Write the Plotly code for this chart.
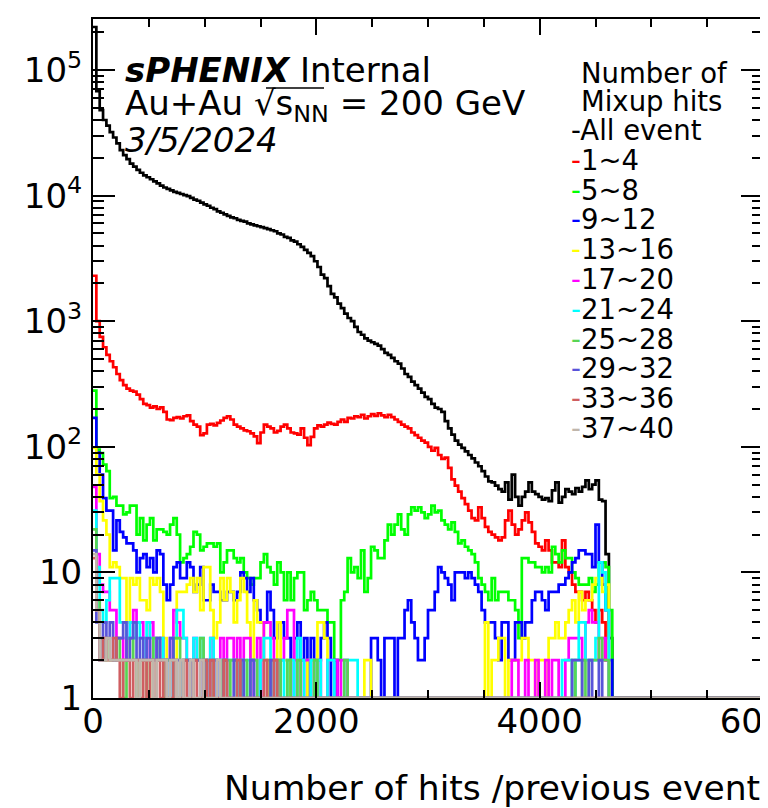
import numpy as np
import plotly.graph_objects as go

# histogram binning: 200 bins of 30 hits from 0 to 6000
bin_width = 30
n_bins = 200

labels = ["All event", "1~4", "5~8", "9~12", "13~16", "17~20",
          "21~24", "25~28", "29~32", "33~36", "37~40"]
colors = ["#000000", "#ff0000", "#00ff00", "#0000ff", "#ffff00", "#ff00ff",
          "#00ffff", "#59d454", "#5954d9", "#cf5e61", "#c0b6ac"]

all_event = [
    220000, 68000, 48000, 40000, 36000, 32000, 29000, 26000, 23000, 21000,
    19500, 18000, 17000, 16000, 15200, 14500, 14000, 13500, 13000, 12500,
    12000, 11600, 11300, 11000, 10700, 10500, 10300, 10100, 9900, 9600,
    9300, 9100, 8800, 8500, 8300, 8000, 7800, 7500, 7300, 7100,
    6900, 6700, 6600, 6400, 6300, 6200, 6000, 5900, 5800, 5700,
    5600, 5500, 5400, 5300, 5200, 5000, 4900, 4700, 4600, 4400,
    4300, 4100, 3900, 3700, 3500, 3300, 3000, 2700, 2350, 2200,
    1900, 1650, 1550, 1380, 1270, 1150, 1060, 1000, 900, 820,
    780, 730, 700, 680, 660, 640, 600, 560, 540, 510,
    480, 460, 420, 380, 360, 330, 310, 290, 270, 250,
    240, 220, 205, 200, 190, 160, 140, 125, 112, 104,
    98, 92, 86, 81, 75, 70, 64, 58, 53, 52,
    49, 46, 44, 52, 38, 60, 40, 34, 40, 44,
    52, 44, 42, 40, 38, 39, 37, 45, 52, 36,
    40, 46, 44, 42, 47, 44, 48, 54, 46, 50,
    54, 38, 37, 14, 3]

hits_1_4 = [
    2300, 1000, 750, 620, 540, 480, 430, 380, 340, 310,
    290, 280, 275, 260, 240, 220, 215, 205, 210, 200,
    206, 190, 165, 163, 170, 172, 168, 175, 178, 160,
    150, 145, 124, 128, 150, 152, 148, 155, 162, 170,
    175, 165, 150, 145, 140, 135, 133, 128, 121, 107,
    130, 150, 145, 140, 130, 134, 145, 150, 140, 130,
    128, 125, 140, 118, 103, 120, 140, 148, 145, 150,
    156, 152, 150, 158, 165, 158, 170, 168, 175, 172,
    180, 168, 175, 182, 176, 185, 178, 172, 180, 172,
    165, 158, 150, 145, 140, 130, 124, 118, 112, 108,
    100, 93, 98, 86, 80, 82, 68, 55, 49, 44,
    39, 35, 31, 27, 26, 33, 27, 23, 21, 20,
    19, 18, 19, 26, 31, 24, 20, 22, 26, 30,
    25, 21, 17, 16, 15, 18, 15, 12, 12, 11,
    18, 11, 10, 8, 7, 7, 6, 7, 6, 5,
    4, 5, 4, 2, 0]

hits_5_8 = [
    280, 95, 89, 72, 64, 39, 40, 34, 34, 29,
    30, 34, 34, 20, 27, 18, 24, 27, 18, 22,
    22, 21, 20, 24, 27, 20, 12, 13, 14, 16,
    21, 20, 15, 16, 17, 17, 16, 17, 10, 12,
    15, 15, 13, 12, 13, 10, 9, 8, 9, 9,
    12, 14, 11, 10, 8, 12, 10, 6, 10, 6,
    9, 10, 10, 5, 6, 7, 6, 5, 5, 5,
    4, 4, 2, 2, 6, 7, 13, 10, 11, 9,
    15, 7, 9, 16, 15, 13, 13, 18, 24, 20,
    24, 29, 22, 20, 29, 33, 31, 33, 30, 27,
    29, 34, 30, 31, 26, 24, 22, 25, 21, 17,
    18, 16, 15, 14, 12, 9, 8, 7, 6, 9,
    6, 7, 7, 7, 6, 6, 5, 3, 13, 13,
    12, 12, 11, 11, 10, 11, 10, 16, 14, 12,
    15, 13, 13, 10, 9, 8, 8, 8, 9, 7,
    8, 12, 12, 11, 5]

hits_9_12 = [
    170, 90, 60, 39, 31, 31, 15, 26, 21, 19,
    17, 17, 15, 10, 13, 14, 11, 13, 10, 15,
    14, 8, 6, 8, 11, 12, 9, 9, 12, 11,
    7, 8, 11, 6, 6, 8, 7, 7, 6, 6,
    7, 7, 6, 7, 10, 9, 7, 9, 6, 5,
    4, 4, 7, 5, 3, 4, 4, 3, 3, 1,
    3, 4, 2, 3, 1, 3, 2, 2, 3, 4,
    3, 1, 2, 0, 0, 0, 0, 0, 0, 0,
    0, 0, 0, 3, 3, 2, 0, 3, 3, 3,
    0, 3, 3, 5, 6, 4, 3, 2, 2, 3,
    5, 5, 7, 11, 10, 9, 8, 6, 10, 10,
    10, 9, 10, 9, 8, 7, 5, 4, 4, 4,
    3, 2, 4, 4, 2, 2, 4, 4, 3, 4,
    4, 6, 7, 7, 6, 5, 7, 7, 7, 8,
    8, 9, 10, 12, 13, 15, 15, 14, 14, 11,
    24, 12, 8, 5, 2]

hits_13_16 = [
    98, 60, 37, 26, 20, 11, 12, 11, 9, 9,
    4, 9, 8, 9, 6, 6, 5, 9, 8, 9,
    7, 3, 2, 2, 2, 7, 7, 7, 8, 9,
    7, 9, 5, 11, 11, 5, 3, 4, 9, 6,
    9, 7, 4, 6, 9, 7, 4, 2, 6, 4,
    4, 2, 1, 2, 2, 4, 2, 2, 1, 2,
    2, 0, 1, 1, 2, 2, 1, 4, 4, 3,
    1, 0, 0, 0, 0, 0, 0, 0, 0, 0,
    0, 2, 2, 0, 0, 0, 1, 0, 0, 0,
    0, 0, 0, 0, 0, 0, 0, 0, 0, 0,
    0, 0, 0, 0, 0, 0, 0, 0, 0, 0,
    0, 0, 0, 0, 0, 0, 0, 4, 1, 2,
    2, 3, 3, 1, 2, 2, 2, 2, 3, 3,
    2, 2, 1, 2, 2, 1, 3, 3, 4, 3,
    3, 4, 5, 6, 4, 7, 5, 6, 6, 8,
    9, 9, 7, 8, 0]

hits_17_20 = [
    48, 14, 8, 7, 7, 5, 5, 3, 3, 2,
    3, 4, 5, 4, 4, 3, 2, 4, 3, 2,
    3, 2, 2, 3, 5, 4, 3, 3, 2, 1,
    3, 2, 2, 1, 2, 3, 2, 1, 3, 2,
    3, 3, 2, 3, 1, 3, 3, 2, 1, 3,
    1, 4, 4, 3, 2, 1, 2, 3, 5, 5,
    2, 2, 1, 2, 2, 0, 2, 2, 1, 0,
    2, 2, 2, 1, 2, 2, 0, 0, 0, 0,
    0, 0, 0, 0, 0, 0, 0, 0, 0, 0,
    0, 0, 0, 0, 0, 0, 0, 0, 0, 0,
    0, 0, 0, 0, 0, 0, 0, 0, 0, 0,
    0, 0, 0, 0, 0, 0, 0, 0, 0, 0,
    0, 0, 0, 0, 0, 2, 2, 0, 1, 2,
    1, 0, 2, 1, 0, 2, 0, 2, 2, 0,
    1, 2, 3, 3, 3, 3, 2, 4, 5, 4,
    4, 2, 3, 2, 0]

hits_21_24 = [
    31, 11, 5, 4, 6, 9, 9, 9, 4, 4,
    3, 4, 3, 4, 3, 2, 4, 3, 2, 2,
    3, 2, 2, 1, 3, 5, 5, 3, 2, 2,
    3, 2, 3, 1, 2, 3, 2, 1, 2, 2,
    2, 2, 2, 1, 2, 1, 2, 2, 2, 1,
    2, 3, 3, 2, 1, 2, 2, 1, 2, 2,
    1, 3, 2, 1, 1, 2, 1, 2, 1, 1,
    2, 2, 0, 0, 1, 2, 2, 2, 2, 0,
    0, 0, 0, 0, 0, 0, 0, 0, 0, 0,
    0, 0, 0, 0, 0, 0, 0, 0, 0, 0,
    0, 0, 0, 0, 0, 0, 0, 0, 0, 0,
    0, 0, 0, 0, 0, 0, 0, 0, 0, 0,
    0, 0, 0, 0, 0, 0, 0, 0, 1, 0,
    0, 0, 0, 1, 0, 0, 0, 0, 0, 1,
    2, 2, 2, 1, 2, 4, 4, 2, 2, 2,
    3, 12, 10, 5, 0]

hits_25_28 = [
    22, 6, 3, 2, 3, 2, 2, 3, 2, 1,
    2, 3, 2, 1, 2, 2, 1, 2, 3, 3,
    2, 1, 2, 2, 3, 3, 1, 2, 2, 1,
    2, 2, 3, 2, 1, 1, 2, 2, 1, 2,
    1, 2, 2, 1, 1, 2, 1, 2, 2, 1,
    1, 1, 2, 1, 1, 2, 1, 1, 2, 1,
    1, 2, 1, 0, 1, 1, 2, 1, 0, 1,
    1, 0, 1, 1, 0, 2, 1, 0, 0, 1,
    0, 0, 1, 0, 0, 1, 0, 0, 0, 0,
    1, 0, 0, 0, 0, 0, 1, 0, 0, 0,
    0, 0, 0, 1, 0, 0, 0, 0, 0, 1,
    0, 0, 0, 0, 1, 0, 0, 0, 0, 1,
    0, 0, 1, 0, 0, 1, 0, 0, 1, 0,
    0, 1, 0, 1, 0, 0, 1, 1, 0, 1,
    1, 0, 1, 2, 1, 1, 2, 1, 2, 2,
    2, 3, 2, 2, 0]

hits_29_32 = [
    15, 4, 2, 4, 3, 4, 2, 3, 3, 4,
    2, 3, 4, 2, 3, 2, 3, 2, 2, 3,
    2, 2, 1, 3, 2, 2, 1, 2, 2, 1,
    2, 2, 1, 2, 1, 2, 2, 1, 1, 2,
    1, 1, 2, 1, 2, 1, 1, 2, 1, 1,
    1, 0, 1, 2, 1, 0, 1, 1, 0, 1,
    1, 0, 1, 0, 0, 1, 0, 1, 0, 0,
    1, 0, 0, 1, 0, 0, 0, 1, 0, 0,
    0, 1, 0, 0, 0, 0, 0, 0, 1, 0,
    0, 0, 0, 0, 0, 0, 0, 0, 0, 0,
    0, 0, 0, 0, 0, 0, 0, 1, 0, 0,
    0, 0, 0, 0, 0, 0, 0, 0, 1, 0,
    0, 0, 0, 0, 0, 1, 0, 0, 0, 0,
    1, 0, 0, 0, 1, 0, 0, 1, 0, 0,
    1, 1, 1, 2, 2, 2, 1, 1, 2, 1,
    1, 2, 1, 1, 0]

hits_33_36 = [
    13, 5, 2, 3, 2, 2, 3, 2, 1, 2,
    2, 1, 2, 2, 1, 2, 1, 2, 1, 2,
    1, 2, 1, 1, 2, 1, 1, 2, 1, 1,
    2, 1, 1, 2, 1, 2, 1, 1, 1, 2,
    1, 1, 1, 2, 1, 1, 0, 1, 1, 1,
    0, 2, 1, 1, 2, 1, 0, 1, 0, 1,
    1, 0, 1, 0, 1, 0, 0, 1, 0, 1,
    0, 0, 1, 0, 0, 0, 1, 0, 0, 0,
    0, 0, 0, 1, 0, 0, 0, 0, 0, 0,
    0, 0, 0, 0, 0, 0, 0, 0, 0, 0,
    0, 0, 0, 0, 0, 0, 0, 0, 0, 0,
    0, 0, 0, 0, 0, 0, 0, 1, 0, 0,
    0, 0, 0, 0, 0, 0, 0, 0, 0, 0,
    0, 0, 0, 0, 0, 1, 0, 0, 0, 0,
    0, 1, 0, 1, 1, 0, 1, 1, 1, 0,
    1, 1, 1, 0, 0]

hits_37_40 = [
    14, 5, 2, 2, 3, 2, 2, 2, 2, 2,
    2, 2, 2, 1, 2, 2, 2, 2, 1, 2,
    2, 2, 1, 2, 2, 1, 2, 1, 1, 2,
    1, 1, 2, 1, 1, 1, 1, 2, 1, 1,
    1, 1, 1, 1, 0, 1, 1, 0, 1, 0,
    1, 1, 0, 0, 1, 0, 1, 0, 0, 1,
    0, 0, 1, 0, 0, 0, 0, 1, 0, 0,
    0, 0, 0, 0, 0, 0, 0, 0, 0, 0,
    0, 0, 0, 0, 0, 0, 0, 0, 0, 0,
    0, 0, 0, 0, 0, 0, 0, 0, 0, 0,
    0, 0, 0, 0, 0, 0, 0, 0, 0, 0,
    0, 0, 0, 0, 0, 0, 0, 0, 0, 0,
    0, 0, 0, 0, 0, 0, 0, 0, 0, 0,
    0, 0, 0, 0, 0, 0, 0, 0, 0, 0,
    0, 1, 0, 0, 1, 1, 0, 1, 1, 0,
    1, 1, 0, 0, 0]

series = [all_event, hits_1_4, hits_5_8, hits_9_12, hits_13_16, hits_17_20,
          hits_21_24, hits_25_28, hits_29_32, hits_33_36, hits_37_40]

W, H = 768, 808
L, R, T, B = 85, 13, 11, 118
PW, PH = W - L - R, H - T - B
FONT = "DejaVu Sans"


def xp(px):
    return (px - L) / PW


def yp(py):
    return (H - B - py) / PH


edges = np.arange(0, n_bins * bin_width + 1, bin_width)

fig = go.Figure()
for name, color, counts in zip(labels, colors, series):
    c = np.zeros(n_bins)
    c[:len(counts)] = counts[:n_bins]
    # empty bins sit on the bottom of the log frame, like ROOT does
    y = np.clip(c, 1, None)
    fig.add_trace(go.Scatter(
        x=edges, y=np.append(y, y[-1]),
        mode="lines", name=name, showlegend=False,
        line=dict(color=color, width=2.7, shape="hv"),
    ))


def note(px, py, text, size, anchor="left"):
    fig.add_annotation(x=xp(px), y=yp(py), xref="paper", yref="paper",
                       text=text, showarrow=False, borderpad=0,
                       xanchor=anchor, yanchor="middle",
                       font=dict(family=FONT, size=size, color="black"))


# header text
note(116, 62, "<b><i>sPHENIX</i></b> Internal", 34)
note(116, 97, "Au+Au \u221as<sub>NN</sub> = 200 GeV", 34)
note(116, 132, "<i>3/5/2024</i>", 34)
# overline of the square root
fig.add_shape(type="line", xref="paper", yref="paper",
              x0=xp(258), x1=xp(316), y0=yp(80), y1=yp(80),
              line=dict(color="black", width=1.5))

# legend block
note(572, 65, "Number of", 27.5)
note(572, 93, "Mixup hits", 27.5)
for k, (name, color) in enumerate(zip(labels, colors)):
    note(562, 122 + 29.8 * k,
         f"<span style='color:{color}'>-</span>{name}", 27.5)

# axis title, right aligned as in ROOT
note(753, 780, "Number of hits /previous event", 34.5, anchor="right")

ytick_vals = [1, 10, 100, 1000, 10000, 100000]
ytick_text = ["1", "10", "10<sup>2</sup>", "10<sup>3</sup>",
              "10<sup>4</sup>", "10<sup>5</sup>"]
yminor = [m * 10 ** d for d in range(6) for m in range(2, 10)]

fig.update_layout(
    width=W, height=H,
    margin=dict(l=L, r=R, t=T, b=B, pad=0, autoexpand=False),
    paper_bgcolor="white", plot_bgcolor="white",
    xaxis=dict(
        range=[0, 6000], tickvals=[0, 2000, 4000, 6000],
        ticks="inside", ticklen=16, tickwidth=1.5, tickcolor="black",
        minor=dict(dtick=500, tick0=0, ticks="inside", ticklen=8,
                   tickwidth=1.5, tickcolor="black", showgrid=False),
        showline=True, linewidth=2, linecolor="black", mirror="ticks",
        showgrid=False, zeroline=False, automargin=False,
        ticklabeloverflow="allow", ticklabelstandoff=-8,
        tickfont=dict(family=FONT, size=34, color="black"),
    ),
    yaxis=dict(
        type="log", range=[0, 5.406],
        tickmode="array", tickvals=ytick_vals, ticktext=ytick_text,
        ticks="inside", ticklen=22, tickwidth=1.5, tickcolor="black",
        minor=dict(tickmode="array", tickvals=yminor, ticks="inside",
                   ticklen=11, tickwidth=1.5, tickcolor="black",
                   showgrid=False),
        showline=True, linewidth=2, linecolor="black", mirror="ticks",
        showgrid=False, zeroline=False, automargin=False,
        ticklabelstandoff=2,
        tickfont=dict(family=FONT, size=34, color="black"),
    ),
)

fig.write_html("out.html")
